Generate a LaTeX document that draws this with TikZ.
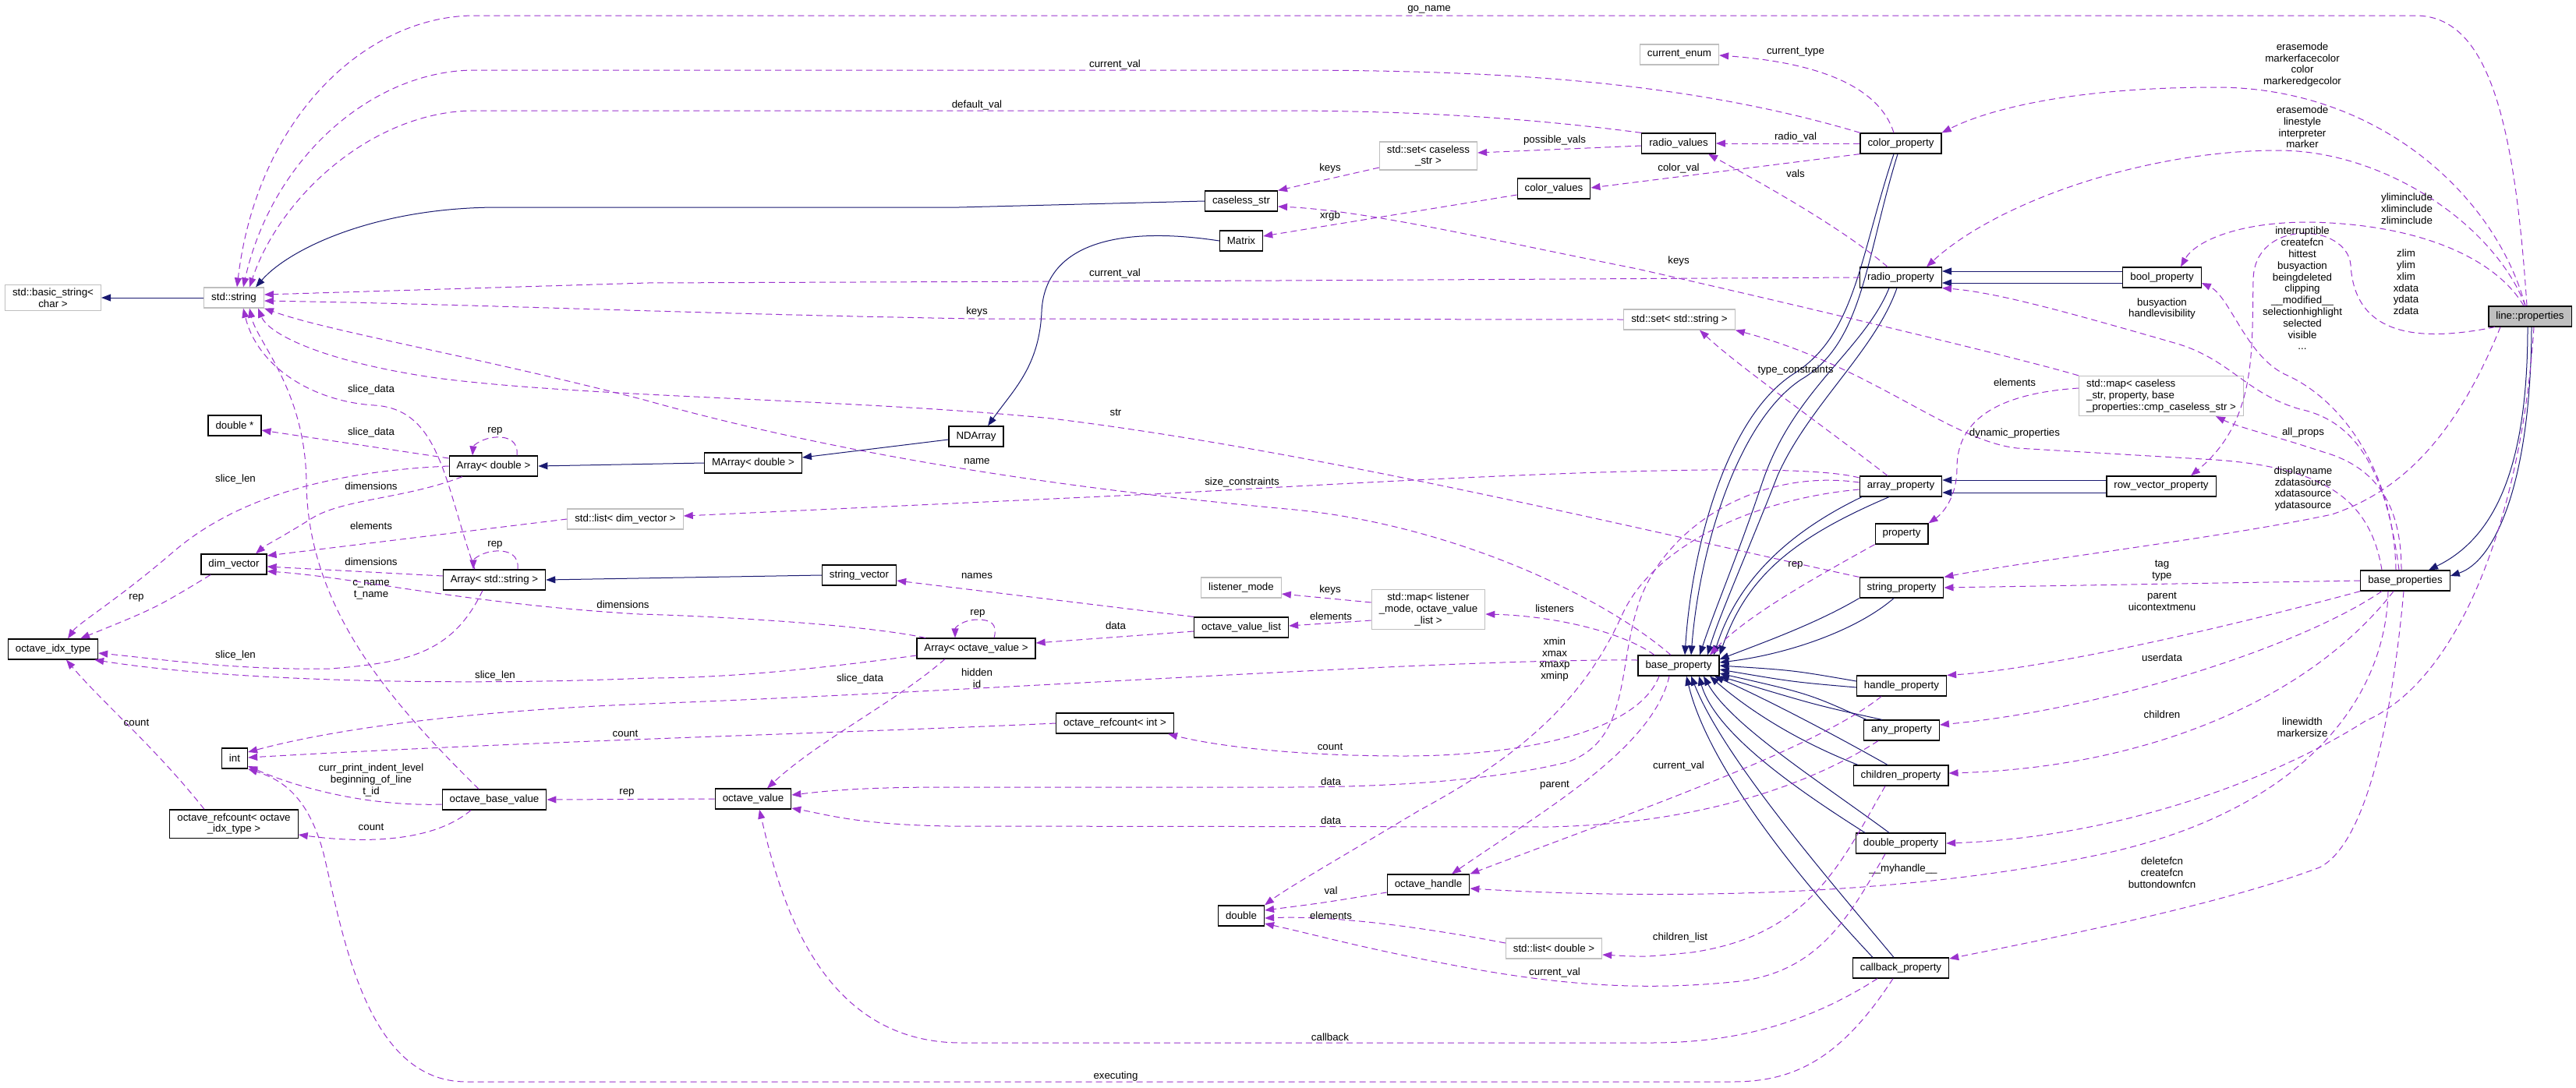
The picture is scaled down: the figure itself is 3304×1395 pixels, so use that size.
\documentclass[tikz,border=0pt]{standalone}
\usepackage{fontspec}
\setmainfont{Liberation Sans}
\usepackage{tikz}
\usetikzlibrary{arrows.meta}
\definecolor{inhblue}{RGB}{25,25,112}
\definecolor{usepurple}{RGB}{154,50,205}
\definecolor{extgray}{RGB}{191,191,191}
\newcommand{\graphfont}{\fontsize{13.3}{14.8}\selectfont}

\begin{document}
\begin{tikzpicture}[x=1pt, y=-1pt,
  cls/.style={rectangle, draw=black, line width=1.2pt, fill=white, font=\graphfont,
    minimum height=26pt, inner xsep=9.5pt, inner ysep=4.5pt, align=center},
  extcls/.style={cls, draw=extgray},
  isa/.style={draw=inhblue, line width=1pt, -{Triangle[length=12pt,width=9pt]}},
  uses/.style={draw=usepurple, line width=1pt, dash pattern=on 8pt off 5pt,
    -{Triangle[length=12pt,width=9pt]}},
  lbl/.style={font=\graphfont, align=center, inner sep=0pt}]

\useasboundingbox (0,0) rectangle (3304,1395);

% String classes
\node[extcls] (basic-string) at (68,382) {std::basic\_string<\\char >};
\node[extcls] (std-string) at (300,382) {std::string};
\node[cls] (caseless-str) at (1592,258) {caseless\_str};
\node[cls] (matrix) at (1592,309) {Matrix};
\node[extcls] (current-enum) at (2154,70) {current\_enum};
\node[cls] (radio-values) at (2153,184) {radio\_values};
\node[extcls] (set-caseless) at (1832,200) {std::set< caseless\\\_str >};
\node[cls] (color-values) at (1993,242) {color\_values};
\node[extcls] (set-string) at (2154,410) {std::set< std::string >};

% Array classes
\node[cls] (double-ptr) at (301,546) {double *};
\node[cls] (array-double) at (633,598) {Array< double >};
\node[cls] (dim-vector) at (300,724) {dim\_vector};
\node[extcls] (std-list-dv) at (802,666) {std::list< dim\_vector >};
\node[cls] (array-string) at (634,744) {Array< std::string >};
\node[cls] (idx-type) at (68,833) {octave\_idx\_type};
\node[cls] (ndarray) at (1252,560) {NDArray};
\node[cls] (marray) at (966,594) {MArray< double >};
\node[cls] (string-vector) at (1102,738) {string\_vector};
\node[extcls] (listener-mode) at (1592,754) {listener\_mode};
\node[cls] (octave-value-list) at (1592,805) {octave\_value\_list};
\node[cls] (array-ov) at (1252,832) {Array< octave\_value >};
\node[cls] (rc-int) at (1430,928) {octave\_refcount< int >};
\node[extcls] (map-listener) at (1832,782) {std::map< listener\\\_mode, octave\_value\\\_list >};

% Value classes
\node[cls] (int) at (301,973) {int};
\node[cls] (octave-base-value) at (634,1026) {octave\_base\_value};
\node[cls] (rc-idx) at (300,1057) {octave\_refcount< octave\\\_idx\_type >};
\node[cls] (octave-value) at (966,1025) {octave\_value};
\node[cls] (double) at (1592,1175) {double};
\node[cls] (octave-handle) at (1832,1135) {octave\_handle};
\node[extcls] (std-list-dbl) at (1993,1217) {std::list< double >};

% Property classes
\node[cls] (base-prop) at (2153,854) {base\_property};
\node[cls] (color-prop) at (2438,184) {color\_property};
\node[cls] (radio-prop) at (2438,356) {radio\_property};
\node[cls] (bool-prop) at (2773,356) {bool\_property};
\node[cls] (array-prop) at (2438,624) {array\_property};
\node[cls] (property) at (2439,685) {property};
\node[cls] (string-prop) at (2439,754) {string\_property};
\node[cls] (handle-prop) at (2439,880) {handle\_property};
\node[cls] (any-prop) at (2439,937) {any\_property};
\node[cls] (children-prop) at (2438,995) {children\_property};
\node[cls] (double-prop) at (2438,1082) {double\_property};
\node[cls] (callback-prop) at (2438,1242) {callback\_property};
\node[extcls, align=left] (map-caseless) at (2772,508)
  {std::map< caseless\\\_str, property, base\\\_properties::cmp\_caseless\_str >};
\node[cls] (row-vector-prop) at (2772,624) {row\_vector\_property};
\node[cls] (base-props) at (3085,745) {base\_properties};
\node[cls, fill=extgray] (line-props) at (3245,406) {line::properties};

% Inheritance
\draw[isa] (std-string) -- (basic-string);
\draw[isa] (caseless-str.west) -- (1230,266) -- (640,266)
  .. controls (480,266) and (370,320) .. ([xshift=28pt]std-string.north);
\draw[isa] (matrix.west) .. controls (1440,290) and (1340,310) .. (1336,400)
  .. controls (1333,470) and (1300,500) .. ([xshift=15pt]ndarray.north);
\draw[isa] ([yshift=-4pt]ndarray.west) -- ([yshift=7pt]marray.east);
\draw[isa] (marray.west) -- (array-double.east);
\draw[isa] (string-vector.west) -- (array-string.east);
\draw[isa] ([yshift=8pt]bool-prop.west) -- ([yshift=8pt]radio-prop.east);
\draw[isa] ([yshift=-7pt]bool-prop.west) -- ([yshift=-7pt]radio-prop.east);
\draw[isa] ([yshift=8pt]row-vector-prop.west) -- ([yshift=8pt]array-prop.east);
\draw[isa] ([yshift=-8pt]row-vector-prop.west) -- ([yshift=-8pt]array-prop.east);
\draw[isa] ([xshift=-3pt]line-props.south) .. controls (3242,600) and (3200,690) .. ([xshift=30pt]base-props.north);
\draw[isa] ([xshift=2pt]line-props.south) .. controls (3246,620) and (3200,720) .. ([yshift=6pt]base-props.east);
\draw[isa] ([xshift=-9pt]color-prop.south) .. controls (2385,330) and (2380,430) .. (2300,480)
  .. controls (2215,535) and (2170,700) .. ([xshift=8pt]base-prop.north);
\draw[isa] ([xshift=-4pt]color-prop.south) .. controls (2393,330) and (2390,440) .. (2310,487)
  .. controls (2230,540) and (2180,700) .. ([xshift=16pt]base-prop.north);
\draw[isa] ([xshift=-15pt]radio-prop.south) .. controls (2390,450) and (2300,500) .. (2260,620)
  .. controls (2230,710) and (2200,780) .. ([xshift=27pt]base-prop.north);
\draw[isa] ([xshift=-5pt]radio-prop.south) .. controls (2405,450) and (2320,520) .. (2280,610)
  .. controls (2245,700) and (2205,790) .. ([xshift=37pt]base-prop.north);
\draw[isa] ([xshift=-50pt]array-prop.south) .. controls (2300,680) and (2230,740) .. ([xshift=45pt]base-prop.north);
\draw[isa] ([xshift=-15pt]array-prop.south) .. controls (2300,690) and (2240,740) .. (base-prop.north east);
\draw[isa] (string-prop.south west) .. controls (2330,800) and (2260,825) .. ([yshift=8pt]base-prop.east);
\draw[isa] ([xshift=-10pt]string-prop.south) .. controls (2380,810) and (2290,840) .. ([yshift=4pt]base-prop.east);
\draw[isa] ([yshift=6pt]handle-prop.west) .. controls (2300,860) .. (base-prop.east);
\draw[isa] ([yshift=-2pt]handle-prop.west) .. controls (2300,875) .. ([yshift=-5pt]base-prop.east);
\draw[isa] ([xshift=-45pt]any-prop.north) .. controls (2320,890) .. ([yshift=-10pt]base-prop.east);
\draw[isa] ([xshift=-25pt]any-prop.north) .. controls (2330,905) .. (base-prop.south east);
\draw[isa] ([xshift=-55pt]children-prop.north) .. controls (2290,945) and (2230,900) .. ([xshift=40pt]base-prop.south);
\draw[isa] ([xshift=-17pt]children-prop.north) .. controls (2330,930) and (2250,890) .. ([xshift=46pt]base-prop.south);
\draw[isa] ([xshift=-46pt]double-prop.north) .. controls (2300,1010) and (2200,940) .. ([xshift=26pt]base-prop.south);
\draw[isa] ([xshift=-15pt]double-prop.north) .. controls (2330,1000) and (2220,930) .. ([xshift=32pt]base-prop.south);
\draw[isa] ([xshift=-36pt]callback-prop.north) .. controls (2300,1120) and (2190,980) .. ([xshift=10pt]base-prop.south);
\draw[isa] ([xshift=-9pt]callback-prop.north) .. controls (2330,1110) and (2210,970) .. ([xshift=16pt]base-prop.south);

% Members: top band
\draw[uses] ([xshift=-4pt]line-props.north) .. controls (3225,150) and (3190,20) .. (3098,20) -- (609,20)
  .. controls (470,20) and (330,150) .. ([xshift=4pt]std-string.north);
\node[lbl] (lbl-go-name) at (1833,12) {go\_name};
\draw[uses] ([xshift=-52pt]color-prop.north) .. controls (2150,100) and (1900,90) .. (1640,90) -- (609,90)
  .. controls (480,90) and (350,200) .. ([xshift=12pt]std-string.north);
\node[lbl] (lbl-cur-val-a) at (1430,83) {current\_val};
\draw[uses] (radio-values.north west) .. controls (1950,150) and (1800,142) .. (1640,142) -- (609,142)
  .. controls (480,142) and (360,250) .. ([xshift=20pt]std-string.north);
\node[lbl] (lbl-default-val) at (1253,135) {default\_val};
\draw[uses] ([xshift=-9pt]color-prop.north) .. controls (2410,110) and (2330,80) .. ([yshift=-1pt]current-enum.east);
\node[lbl] (lbl-cur-type) at (2303,67) {current\_type};
\draw[uses] (color-prop.west) -- (radio-values.east);
\node[lbl] (lbl-radio-val) at (2303,176) {radio\_val};
\draw[uses] ([yshift=-3pt]radio-values.west) -- ([yshift=4pt]set-caseless.east);
\node[lbl] (lbl-possible) at (1994,180) {possible\_vals};
\draw[uses] (color-prop.south west) -- ([yshift=1pt]color-values.east);
\node[lbl] (lbl-color-val) at (2153,216) {color\_val};
\draw[uses] ([xshift=-17pt]radio-prop.north) .. controls (2360,290) and (2250,230) .. ([xshift=38pt]radio-values.south);
\node[lbl] (lbl-vals) at (2303,223) {vals};
\draw[uses] ([yshift=-15pt]set-caseless.west) -- (caseless-str.north east);
\node[lbl] (lbl-keys-a) at (1706,216) {keys};
\draw[uses] ([yshift=-8pt]color-values.west) -- ([yshift=6pt]matrix.east);
\node[lbl] (lbl-xrgb) at (1706,277) {xrgb};
\draw[uses] (map-caseless.north west) .. controls (2600,462) and (2300,390) .. (2100,345)
  .. controls (1900,305) and (1750,270) .. ([yshift=-7pt]caseless-str.east);
\node[lbl] (lbl-keys-b) at (2153,335) {keys};
\draw[uses] (radio-prop.west) -- (1640,360) -- (830,363) -- ([yshift=4pt]std-string.east);
\node[lbl] (lbl-cur-val-b) at (1430,351) {current\_val};
\draw[uses] (set-string.west) -- (1250,409) .. controls (900,403) and (600,390) .. ([yshift=-4pt]std-string.east);
\node[lbl] (lbl-keys-c) at (1253,400) {keys};

% Members of line::properties and base_properties
\draw[uses] ([xshift=-6pt]line-props.north) .. controls (3200,250) and (3050,112) .. (2842,112)
  .. controls (2660,112) and (2550,140) .. (color-prop.north east);
\node[lbl] (lbl-erase-a) at (2953,83) {erasemode\\markerfacecolor\\color\\markeredgecolor};
\draw[uses] ([xshift=-6pt]line-props.north) .. controls (3200,290) and (3060,193) .. (2922,193)
  .. controls (2750,193) and (2560,260) .. ([xshift=33pt]radio-prop.north);
\node[lbl] (lbl-erase-b) at (2953,163) {erasemode\\linestyle\\interpreter\\marker};
\draw[uses] ([xshift=-8pt]line-props.north) .. controls (3200,330) and (3100,287) .. (2960,285)
  .. controls (2870,285) and (2815,310) .. ([xshift=24pt]bool-prop.north);
\node[lbl] (lbl-liminc) at (3087,268) {yliminclude\\xliminclude\\zliminclude};
\draw[uses] ([xshift=-45pt]line-props.south) .. controls (3100,440) and (3020,430) .. (3015,340)
  .. controls (3010,285) and (2890,280) .. (2890,360)
  .. controls (2888,450) and (2895,540) .. ([xshift=38pt]row-vector-prop.north);
\node[lbl] (lbl-lims) at (3086,362) {zlim\\ylim\\xlim\\xdata\\ydata\\zdata};
\draw[uses] ([xshift=-12pt]base-props.north) .. controls (3070,600) and (3000,510) .. (2930,480)
  .. controls (2880,455) and (2860,380) .. ([yshift=-7pt]bool-prop.east);
\node[lbl] (lbl-bools) at (2953,370) {interruptible\\createfcn\\hittest\\busyaction\\beingdeleted\\clipping\\\_\_modified\_\_\\selectionhighlight\\selected\\visible\\...};
\draw[uses] ([xshift=-8pt]base-props.north) .. controls (3060,600) and (3020,540) .. (2950,525)
  .. controls (2880,505) and (2860,460) .. (2789,440)
  .. controls (2650,400) and (2560,375) .. (radio-prop.south east);
\node[lbl] (lbl-busy) at (2773,396) {busyaction\\handlevisibility};
\draw[uses] ([yshift=10pt]map-caseless.west) .. controls (2560,505) and (2510,540) .. (2510,600)
  .. controls (2510,640) and (2490,660) .. (property.north east);
\node[lbl] (lbl-elem-a) at (2584,491) {elements};
\draw[uses] ([xshift=-30pt]base-props.north) .. controls (3040,640) and (2980,600) .. (2842,590) -- (2587,575)
  .. controls (2500,565) and (2400,470) .. (set-string.south east);
\node[lbl] (lbl-dyn) at (2584,556) {dynamic\_properties};
\draw[uses] ([xshift=-5pt]base-props.north) .. controls (3080,650) and (3050,600) .. (2980,580)
  .. controls (2920,560) and (2870,548) .. ([xshift=70pt]map-caseless.south);
\node[lbl] (lbl-allprops) at (2954,555) {all\_props};
\draw[uses] ([xshift=-38pt]line-props.south) .. controls (3150,560) and (3080,630) .. (2991,660)
  .. controls (2850,690) and (2600,720) .. (string-prop.north east);
\node[lbl] (lbl-dsrc) at (2954,627) {displayname\\zdatasource\\xdatasource\\ydatasource};
\draw[uses] (base-props.west) -- (string-prop.east);
\node[lbl] (lbl-tag) at (2773,732) {tag\\type};
\draw[uses] (base-props.south west) .. controls (2800,820) and (2600,860) .. (handle-prop.north east);
\node[lbl] (lbl-parent-a) at (2773,772) {parent\\uicontextmenu};
\draw[uses] ([xshift=-30pt]base-props.south) .. controls (2950,830) and (2700,910) .. ([yshift=7pt]any-prop.east);
\node[lbl] (lbl-userdata) at (2773,844) {userdata};
\draw[uses] ([xshift=-15pt]base-props.south) .. controls (2960,900) and (2750,985) .. ([yshift=3pt]children-prop.east);
\node[lbl] (lbl-children) at (2773,917) {children};
\draw[uses] ([xshift=5pt]line-props.south) .. controls (3235,650) and (3160,870) .. (3034,925)
  .. controls (2900,1010) and (2700,1075) .. (double-prop.east);
\node[lbl] (lbl-linewidth) at (2953,933) {linewidth\\markersize};
\draw[uses] ([xshift=-2pt]base-props.south) .. controls (3070,900) and (3040,1080) .. (2975,1113)
  .. controls (2850,1160) and (2650,1200) .. ([yshift=12pt]callback-prop.east);
\node[lbl] (lbl-fcns) at (2773,1120) {deletefcn\\createfcn\\buttondownfcn};
\draw[uses] ([xshift=-22pt]base-props.south) .. controls (3060,900) and (2950,1040) .. (2700,1095)
  .. controls (2400,1160) and (2050,1150) .. ([yshift=-5pt]octave-handle.east);
\node[lbl] (lbl-myhandle) at (2441,1115) {\_\_myhandle\_\_};

% Members of the property classes
\draw[uses] ([xshift=-17pt]array-prop.north) .. controls (2330,540) and (2230,470) .. ([xshift=26pt]set-string.south);
\node[lbl] (lbl-typecons) at (2303,475) {type\_constraints};
\draw[uses] ([yshift=11pt]array-prop.west) .. controls (2300,590) and (1900,610) .. (1500,633) -- ([yshift=4pt]std-list-dv.east);
\node[lbl] (lbl-sizecons) at (1593,619) {size\_constraints};
\draw[uses] (property.south west) .. controls (2330,740) and (2240,790) .. ([xshift=40pt]base-prop.north);
\node[lbl] (lbl-rep-a) at (2303,725) {rep};
\draw[uses] (string-prop.north west) .. controls (2150,690) and (1700,580) .. (1349,537)
  .. controls (1100,512) and (750,510) .. (560,485)
  .. controls (420,465) and (345,430) .. ([xshift=31pt]std-string.south);
\node[lbl] (lbl-str) at (1431,529) {str};
\draw[uses] ([xshift=-10pt]base-prop.north) .. controls (2050,760) and (1850,670) .. (1650,653)
  .. controls (1400,630) and (1100,590) .. (826,513)
  .. controls (600,455) and (420,425) .. (std-string.south east);
\node[lbl] (lbl-name) at (1253,592) {name};
\draw[uses] ([xshift=-31pt]base-prop.north) .. controls (2080,810) and (1990,790) .. ([yshift=-6pt]map-listener.east);
\node[lbl] (lbl-listeners) at (1994,781) {listeners};
\draw[uses] ([yshift=-4pt]array-prop.west) .. controls (2250,640) and (2120,700) .. (2080,790)
  .. controls (2030,900) and (1950,970) .. (1820,1040)
  .. controls (1720,1100) and (1650,1140) .. (double.north east);
\node[lbl] (lbl-xmin) at (1994,846) {xmin\\xmax\\xmaxp\\xminp};
\draw[uses] ([yshift=7pt]base-prop.west) .. controls (1850,845) and (1300,885) .. (830,903)
  .. controls (600,912) and (430,935) .. ([yshift=8pt]int.east);
\node[lbl] (lbl-hidden) at (1253,870) {hidden\\id};
\draw[uses] ([xshift=-25pt]base-prop.south) .. controls (2100,940) and (1950,970) .. (1800,970)
  .. controls (1650,970) and (1550,955) .. ([xshift=68pt]rc-int.south);
\node[lbl] (lbl-count-a) at (1706,958) {count};
\draw[uses] ([yshift=5pt]array-prop.west) .. controls (2250,600) and (2130,680) .. (2100,780)
  .. controls (2075,860) and (2090,950) .. (2010,978)
  .. controls (1900,1005) and (1750,1010) .. (1650,1010) -- (1217,1010)
  .. controls (1100,1010) and (1060,1015) .. ([yshift=5pt]octave-value.east);
\node[lbl] (lbl-data-a) at (1707,1003) {data};
\draw[uses] ([xshift=-30pt]any-prop.south) .. controls (2300,1020) and (2150,1058) .. (1984,1061) -- (1217,1060)
  .. controls (1100,1058) and (1060,1045) .. ([yshift=-12pt]octave-value.east);
\node[lbl] (lbl-data-b) at (1707,1053) {data};
\draw[uses] ([xshift=-12pt]base-prop.south) .. controls (2120,960) and (1980,1040) .. ([xshift=30pt]octave-handle.north);
\node[lbl] (lbl-parent-b) at (1994,1008) {parent};
\draw[uses] ([xshift=-26pt]handle-prop.south) .. controls (2330,960) and (2100,1040) .. (octave-handle.north east);
\node[lbl] (lbl-cur-val-c) at (2153,983) {current\_val};
\draw[uses] ([yshift=-10pt]octave-handle.west) .. controls (1700,1158) .. ([yshift=7pt]double.east);
\node[lbl] (lbl-val) at (1707,1143) {val};
\draw[uses] ([yshift=7pt]std-list-dbl.west) .. controls (1800,1185) and (1700,1175) .. ([yshift=-3pt]double.east);
\node[lbl] (lbl-elem-b) at (1707,1175) {elements};
\draw[uses] ([xshift=-20pt]double-prop.south) .. controls (2370,1180) and (2330,1250) .. (2222,1260)
  .. controls (2100,1272) and (2000,1262) .. (1900,1245)
  .. controls (1760,1220) and (1690,1200) .. ([yshift=-10pt]double.east);
\node[lbl] (lbl-cur-val-d) at (1994,1248) {current\_val};
\draw[uses] ([xshift=-20pt]children-prop.south) .. controls (2360,1110) and (2320,1200) .. (2170,1222)
  .. controls (2110,1228) .. ([yshift=-8pt]std-list-dbl.east);
\node[lbl] (lbl-childlist) at (2155,1203) {children\_list};
\draw[uses] ([xshift=-30pt]callback-prop.south) .. controls (2300,1325) and (2200,1338) .. (2116,1338) -- (1233,1338)
  .. controls (1050,1338) and (1000,1150) .. ([xshift=8pt]octave-value.south);
\node[lbl] (lbl-callback) at (1706,1331) {callback};
\draw[uses] ([xshift=-10pt]callback-prop.south) .. controls (2360,1360) and (2300,1388) .. (2222,1388) -- (598,1388)
  .. controls (470,1388) and (440,1200) .. (415,1095)
  .. controls (395,1020) and (360,1000) .. (int.south east);
\node[lbl] (lbl-executing) at (1431,1381) {executing};

% Members of the array and value classes
\draw[uses] ([yshift=10pt]array-double.west) -- ([yshift=-6pt]double-ptr.east);
\node[lbl] (lbl-slice-data-a) at (476,555) {slice\_data};
\draw[uses] ([xshift=30pt]array-double.north) .. controls (665,566) and (652,560) .. (636,561)
  .. controls (618,562) and (607,572) .. ([xshift=-27pt]array-double.north);
\node[lbl] (lbl-rep-b) at (635,553) {rep};
\draw[uses] (array-double.west) .. controls (420,605) and (300,640) .. (220,710)
  .. controls (150,770) and (100,800) .. ([xshift=19pt]idx-type.north);
\node[lbl] (lbl-slice-len-a) at (302,615) {slice\_len};
\draw[uses] ([xshift=-40pt]array-double.south) .. controls (520,640) and (440,640) .. (400,665)
  .. controls (360,690) and (340,700) .. ([xshift=28pt]dim-vector.north);
\node[lbl] (lbl-dims-a) at (476,624) {dimensions};
\draw[uses] (std-list-dv.west) -- ([yshift=11pt]dim-vector.east);
\node[lbl] (lbl-elem-c) at (476,675) {elements};
\draw[uses] ([xshift=30pt]array-string.north) .. controls (666,712) and (652,706) .. (636,707)
  .. controls (618,708) and (607,718) .. ([xshift=-27pt]array-string.north);
\node[lbl] (lbl-rep-c) at (635,699) {rep};
\draw[uses] ([yshift=5pt]array-string.west) -- ([yshift=-3pt]dim-vector.east);
\node[lbl] (lbl-dims-b) at (476,721) {dimensions};
\draw[uses] ([xshift=-25pt]array-string.north) .. controls (570,620) and (565,525) .. (480,520)
  .. controls (400,515) and (330,470) .. ([xshift=12pt]std-string.south);
\node[lbl] (lbl-slice-data-b) at (476,500) {slice\_data};
\draw[uses] ([xshift=-20pt]octave-base-value.north) .. controls (500,900) and (395,780) .. (393,620)
  .. controls (392,500) and (330,440) .. ([xshift=20pt]std-string.south);
\node[lbl] (lbl-cname) at (476,757) {c\_name\\t\_name};
\draw[uses] ([xshift=-65pt]array-ov.north) .. controls (1100,800) and (900,790) .. (820,788)
  .. controls (600,775) and (450,740) .. ([yshift=-9pt]dim-vector.east);
\node[lbl] (lbl-dims-c) at (799,776) {dimensions};
\draw[uses] ([xshift=-30pt]dim-vector.south) .. controls (200,780) .. ([xshift=35pt]idx-type.north);
\node[lbl] (lbl-rep-d) at (175,767) {rep};
\draw[uses] ([xshift=-15pt]array-string.south) .. controls (580,840) and (520,850) .. (424,858)
  .. controls (300,860) and (200,845) .. ([yshift=-5pt]idx-type.east);
\node[lbl] (lbl-slice-len-b) at (302,841) {slice\_len};
\draw[uses] ([yshift=-9pt]array-ov.west) .. controls (1000,865) and (900,870) .. (830,870)
  .. controls (600,880) and (300,875) .. ([xshift=-5pt]idx-type.south east);
\node[lbl] (lbl-slice-len-c) at (635,867) {slice\_len};
\draw[uses] ([xshift=-38pt]rc-idx.north) .. controls (200,960) and (130,900) .. ([xshift=17pt]idx-type.south);
\node[lbl] (lbl-count-b) at (175,927) {count};
\draw[uses] (octave-value-list.north west) -- ([yshift=-7pt]string-vector.east);
\node[lbl] (lbl-names) at (1253,739) {names};
\draw[uses] ([yshift=-5pt]octave-value-list.west) -- ([yshift=7pt]array-ov.east);
\node[lbl] (lbl-data-c) at (1431,803) {data};
\draw[uses] ([xshift=23pt]array-ov.north) .. controls (1280,800) and (1270,795) .. (1254,795)
  .. controls (1235,795) and (1225,805) .. ([xshift=-27pt]array-ov.north);
\node[lbl] (lbl-rep-e) at (1254,787) {rep};
\draw[uses] ([xshift=-40pt]array-ov.south) .. controls (1150,900) and (1050,950) .. ([xshift=18pt]octave-value.north);
\node[lbl] (lbl-slice-data-c) at (1103,871) {slice\_data};
\draw[uses] ([yshift=9pt]map-listener.west) -- ([yshift=-8pt]listener-mode.east);
\node[lbl] (lbl-keys-d) at (1706,757) {keys};
\draw[uses] ([yshift=-14pt]map-listener.west) -- ([yshift=2pt]octave-value-list.east);
\node[lbl] (lbl-elem-d) at (1707,791) {elements};
\draw[uses] (rc-int.west) .. controls (1100,940) and (700,950) .. ([yshift=1pt]int.east);
\node[lbl] (lbl-count-c) at (802,941) {count};
\draw[uses] ([yshift=-6pt]octave-base-value.west) .. controls (470,1035) and (380,1010) .. ([yshift=-10pt]int.east);
\node[lbl] (lbl-print) at (476,1001) {curr\_print\_indent\_level\\beginning\_of\_line\\t\_id};
\draw[uses] ([xshift=-30pt]octave-base-value.south) .. controls (550,1085) and (450,1080) .. ([yshift=-14pt]rc-idx.east);
\node[lbl] (lbl-count-d) at (476,1061) {count};
\draw[uses] (octave-value.west) -- (octave-base-value.east);
\node[lbl] (lbl-rep-f) at (804,1017) {rep};

\end{tikzpicture}
\end{document}
